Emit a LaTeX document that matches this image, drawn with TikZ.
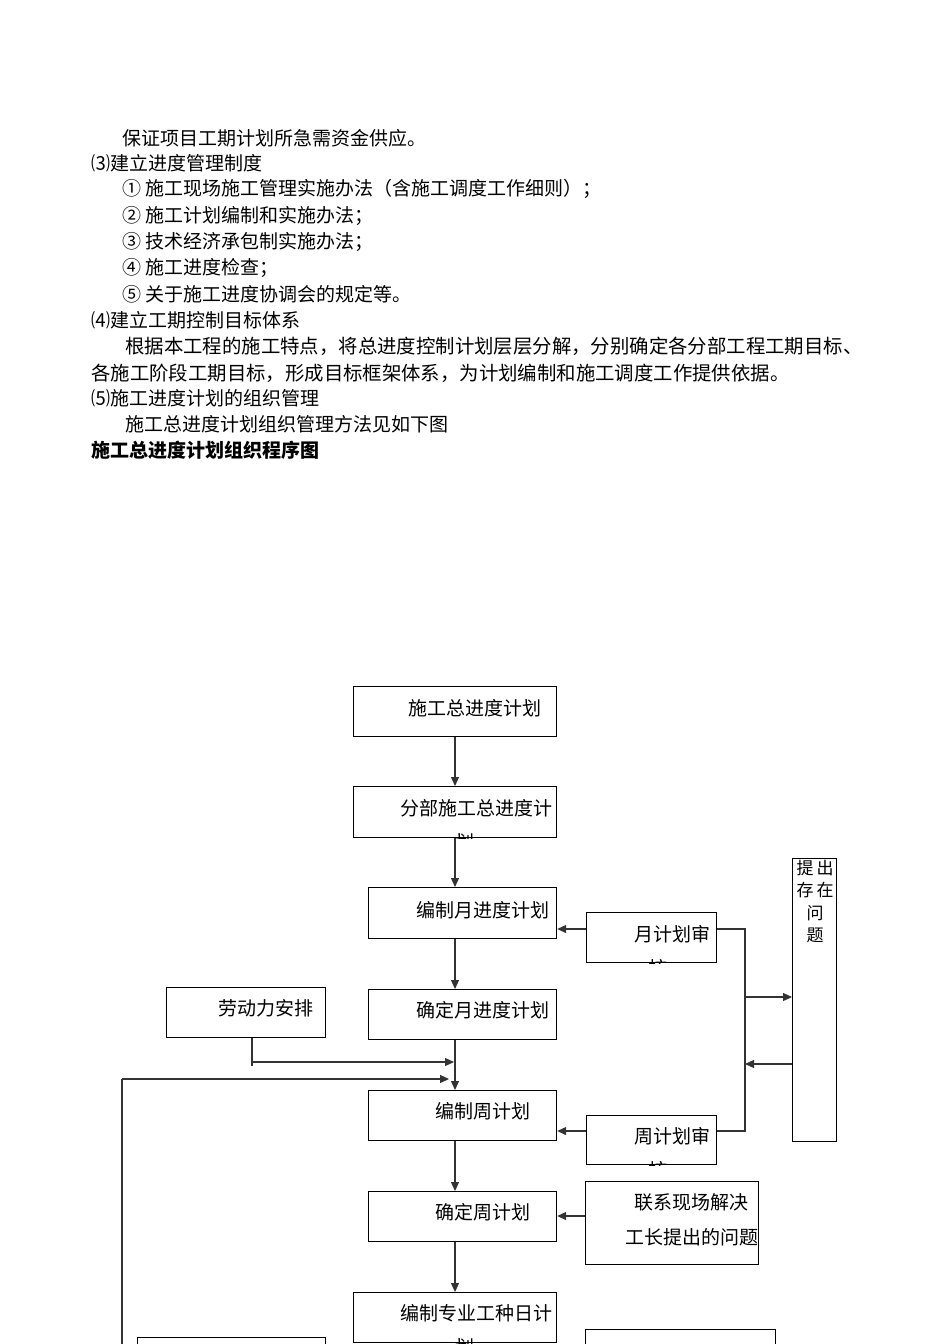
\documentclass[tikz,border=0pt]{standalone}
\usepackage{fontspec}
\setmainfont{Noto Sans CJK SC}
\usetikzlibrary{arrows.meta}
\begin{document}
\begin{tikzpicture}[x=1pt,y=-1pt,
  txt/.style={anchor=west,inner sep=0pt,font=\fontsize{19}{19}\selectfont},
  wtxt/.style={anchor=west,inner sep=0pt,font=\fontsize{19.4}{19.4}\selectfont},
  btxt/.style={anchor=west,inner sep=0pt,font=\fontsize{19}{19}\selectfont\bfseries},
  box/.style={draw=black,line width=1.2pt,rectangle,inner sep=0pt,anchor=north west},
  con/.style={draw=black!80,line width=1.2pt},
  arr/.style={con,-{Triangle[length=9pt,width=8pt]}}]
\useasboundingbox (0,0) rectangle (950,1344);
% ---------- text ----------
\node[txt] (t1) at (122,138) {保证项目工期计划所急需资金供应。};
\node[txt] (t2) at (91,163) {⑶建立进度管理制度};
\node[txt] (t3) at (122,189) {① 施工现场施工管理实施办法（含施工调度工作细则）；};
\node[txt] (t4) at (122,216) {② 施工计划编制和实施办法；};
\node[txt] (t5) at (122,242) {③ 技术经济承包制实施办法；};
\node[txt] (t6) at (122,268) {④ 施工进度检查；};
\node[txt] (t7) at (122,294) {⑤ 关于施工进度协调会的规定等。};
\node[txt] (t8) at (91,320) {⑷建立工期控制目标体系};
\node[wtxt] (t9) at (125,346) {根据本工程的施工特点，将总进度控制计划层层分解，分别确定各分部工程工期目标、};
\node[wtxt] (t10) at (91,373) {各施工阶段工期目标，形成目标框架体系，为计划编制和施工调度工作提供依据。};
\node[txt] (t11) at (91,398) {⑸施工进度计划的组织管理};
\node[txt] (t12) at (125,424) {施工总进度计划组织管理方法见如下图};
\node[btxt] (t13) at (91,450) {施工总进度计划组织程序图};
% ---------- boxes ----------
\node[box,minimum width=203pt,minimum height=50pt] (b1) at (353,686) {};
\node[box,minimum width=203pt,minimum height=51pt] (b2) at (353,786) {};
\node[box,minimum width=188pt,minimum height=51pt] (b3) at (368,887) {};
\node[box,minimum width=130pt,minimum height=50pt] (b4) at (586,912) {};
\node[box,minimum width=188pt,minimum height=50pt] (b5) at (368,989) {};
\node[box,minimum width=159pt,minimum height=50pt] (b6) at (166,987) {};
\node[box,minimum width=188pt,minimum height=50pt] (b7) at (368,1090) {};
\node[box,minimum width=130pt,minimum height=49pt] (b8) at (586,1115) {};
\node[box,minimum width=188pt,minimum height=50pt] (b9) at (368,1191) {};
\node[box,minimum width=173pt,minimum height=83pt] (b10) at (585,1181) {};
\node[box,minimum width=203pt,minimum height=50pt] (b11) at (353,1292) {};
\node[box,minimum width=44pt,minimum height=283pt] (b12) at (792,858) {};
\node[box,minimum width=188pt,minimum height=30pt] (b13) at (137,1337) {};
\node[box,minimum width=190pt,minimum height=30pt] (b14) at (585,1329) {};
% ---------- box texts ----------
\node[txt] (l1) at (408,708) {施工总进度计划};
\begin{scope}
\clip (b2.south west) rectangle (b2.north east);
\node[txt,align=left] (l2) at (400,825) {分部施工总进度计\\[15pt]\hspace*{55pt}划};
\end{scope}
\node[txt] (l3) at (416,910) {编制月进度计划};
\begin{scope}
\clip (b4.south west) rectangle (b4.north east);
\node[txt,align=left] (l4) at (634,951) {月计划审\\[15pt]\hspace*{14pt}核};
\end{scope}
\node[txt] (l5) at (416,1010) {确定月进度计划};
\node[txt] (l6) at (218,1008) {劳动力安排};
\node[txt] (l7) at (435,1111) {编制周计划};
\begin{scope}
\clip (b8.south west) rectangle (b8.north east);
\node[txt,align=left] (l8) at (634,1153) {周计划审\\[15pt]\hspace*{14pt}核};
\end{scope}
\node[txt] (l9) at (435,1212) {确定周计划};
\node[txt] (l10a) at (634,1202) {联系现场解决};
\node[txt] (l10b) at (625,1237) {工长提出的问题};
\begin{scope}
\clip (b11.south west) rectangle (b11.north east);
\node[txt,align=left] (l11) at (400,1330) {编制专业工种日计\\[15pt]\hspace*{55pt}划};
\end{scope}
\node[inner sep=0pt,anchor=north,align=center,font=\fontsize{17}{22.5}\selectfont] (l12) at (815,860) {提\hspace{3pt}出\\存\hspace{3pt}在\\问\\题};
% ---------- connectors ----------
\draw[arr] (b1.south -| 455,0) -- (b2.north -| 455,0);
\draw[arr] (b2.south -| 455,0) -- (b3.north -| 455,0);
\draw[arr] (b3.south -| 455,0) -- (b5.north -| 455,0);
\draw[arr] (b5.south -| 455,0) -- (b7.north -| 455,0);
\draw[arr] (b7.south -| 455,0) -- (b9.north -| 455,0);
\draw[arr] (b9.south -| 455,0) -- (b11.north -| 455,0);
\coordinate (j6) at (252,1062);
\coordinate (e6) at (454,1062);
\draw[con] (b6.south -| j6) -- (252,1066);
\draw[arr] (j6) -- (e6);
\coordinate (lt) at (122,1079);
\coordinate (lb) at (122,1344);
\coordinate (le) at (449,1079);
\draw[con] (lb) -- (lt);
\draw[arr] (lt) -- (le);
\draw[arr] (b4.west |- 0,929) -- (b3.east |- 0,929);
\draw[arr] (b8.west |- 0,1131) -- (b7.east |- 0,1131);
\draw[arr] (b10.west |- 0,1216) -- (b9.east |- 0,1216);
\coordinate (rt) at (745,929);
\coordinate (rb) at (745,1131);
\draw[con] (b4.east |- rt) -- (rt) -- (rb) -- (b8.east |- rb);
\draw[arr] (745,997) -- (b12.west |- 0,997);
\draw[arr] (b12.west |- 0,1064) -- (745,1064);
\end{tikzpicture}
\end{document}
